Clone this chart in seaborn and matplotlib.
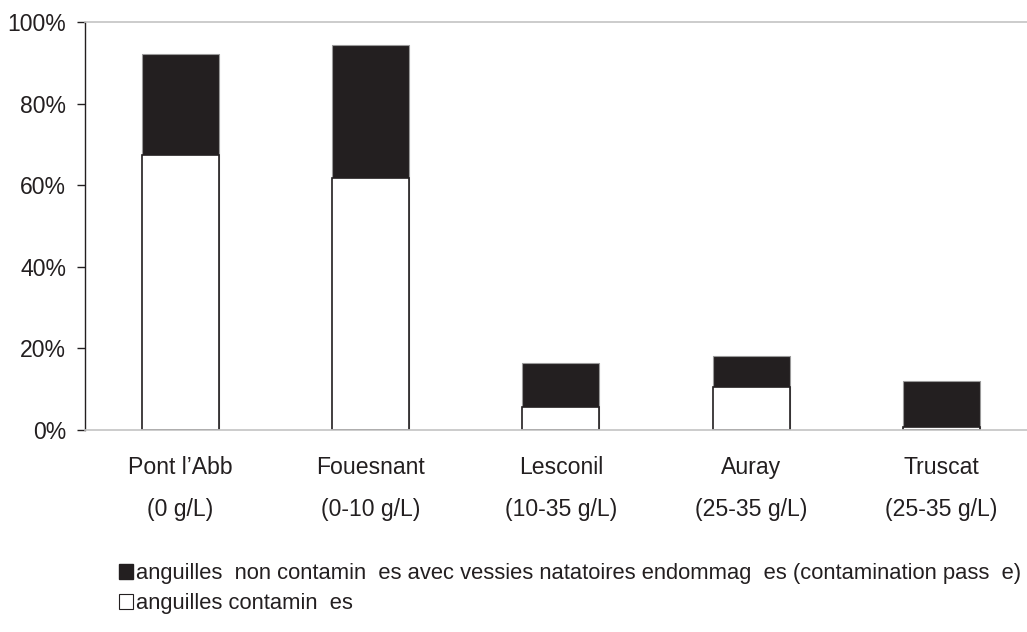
import pandas as pd
import matplotlib
matplotlib.use("Agg")
import matplotlib.pyplot as plt
import seaborn as sns
from matplotlib.patches import Patch
from matplotlib.ticker import PercentFormatter

# Données
sites = ["Pont l’Abb\n(0 g/L)", "Fouesnant\n(0-10 g/L)", "Lesconil\n(10-35 g/L)",
         "Auray\n(25-35 g/L)", "Truscat\n(25-35 g/L)"]
contaminees = [67.4, 61.7, 5.6, 10.5, 0.8]
endommagees = [24.7, 32.7, 10.9, 7.6, 11.3]

label_endo = "anguilles  non contamin  es avec vessies natatoires endommag  es (contamination pass  e)"
label_cont = "anguilles contamin  es"

df = pd.DataFrame({"site": sites, "contaminees": contaminees, "endommagees": endommagees})
df["total"] = df["contaminees"] + df["endommagees"]

sns.set_style("white")
plt.rcParams['font.family'] = ['Liberation Sans', 'DejaVu Sans']
dark = "#231f20"

fig = plt.figure(figsize=(10.27, 6.32), dpi=100)
ax = fig.add_axes([0.0828, 0.3196, 0.9172, 0.6456])

# barre totale (noire) puis la part contaminée (blanche) par-dessus
sns.barplot(data=df, x="site", y="total", color=dark, width=0.404, saturation=1,
            edgecolor="#9a9a9a", linewidth=0.8, ax=ax)
sns.barplot(data=df, x="site", y="contaminees", color="white", width=0.404, saturation=1,
            edgecolor=dark, linewidth=1.2, ax=ax)

ax.set_xlim(-0.5, 4.45)
ax.set_ylim(0, 100)
ax.set_yticks([0, 20, 40, 60, 80, 100])
ax.yaxis.set_major_formatter(PercentFormatter(decimals=0))
ax.set_xlabel("")
ax.set_ylabel("")

for s in ["top", "bottom"]:
    ax.spines[s].set_color("#c4c4c4")
    ax.spines[s].set_linewidth(1.2)
ax.spines["right"].set_visible(False)
ax.spines["left"].set_color(dark)
ax.spines["left"].set_linewidth(1.0)

ax.tick_params(axis="y", direction="out", length=6, width=1, color=dark,
               labelsize=16.6, labelcolor=dark, pad=7.5, left=True)
ax.tick_params(axis="x", length=0, labelsize=16.6, labelcolor=dark, pad=19)
for t in ax.get_xticklabels():
    t.set_linespacing(2.05)

handles = [Patch(facecolor=dark, edgecolor=dark, label=label_endo),
           Patch(facecolor="white", edgecolor=dark, linewidth=0.8, label=label_cont)]
fig.legend(handles=handles, loc="upper left", bbox_to_anchor=(0.105, 0.126),
           ncol=1, frameon=False, fontsize=15.8, handlelength=0.65, handleheight=0.65,
           handletextpad=0.15, labelspacing=0.4, labelcolor=dark, borderpad=0)

fig.savefig("out.png", dpi=100)
